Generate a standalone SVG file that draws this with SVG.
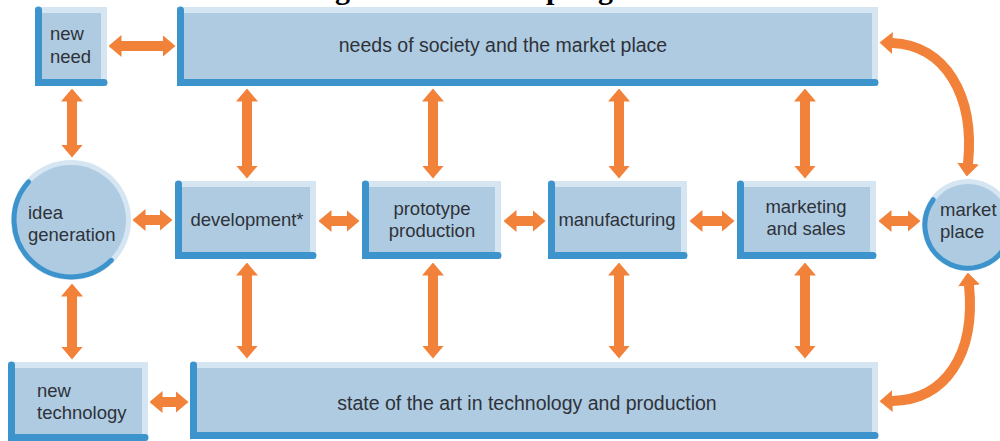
<svg xmlns="http://www.w3.org/2000/svg" width="1000" height="441" viewBox="0 0 1000 441">
  <defs>
    <style>
      .rim { fill: #d5e6f2; }
      .face { fill: #aecbe2; }
      .edge { fill: none; stroke: #3d93cb; stroke-width: 7; stroke-linecap: round; }
      .arc { fill: none; stroke: #3d93cb; stroke-width: 5; stroke-linecap: round; }
      .lbl { font-family: "Liberation Sans", Arial, sans-serif; font-size: 18.5px; fill: #2e3238; }
      .big { font-size: 19.5px; }
      .mid { text-anchor: middle; }
      .arr { fill: none; stroke: #f2813a; stroke-width: 10; marker-start: url(#ah); marker-end: url(#ah); }
      .title { font-family: "Liberation Serif", "Times New Roman", serif; font-weight: bold; font-size: 30px; fill: #000; }
    </style>
    <marker id="ah" viewBox="0 0 13 22" refX="0.5" refY="11" markerWidth="13" markerHeight="22" markerUnits="userSpaceOnUse" orient="auto-start-reverse">
      <path d="M0,0 L13,11 L0,22 Z" fill="#f2813a"/>
    </marker>
  </defs>

  <rect width="1000" height="441" fill="#ffffff"/>

  <!-- heading, cut off at the top edge -->
  <g id="heading">
    <text class="title" x="335" y="-1">g</text>
    <text class="title" x="546" y="-1">p</text>
    <text class="title" x="598" y="-1">g</text>
  </g>

  <!-- connectors -->
  <g id="connectors">
    <!-- horizontal -->
    <line class="arr" x1="121" y1="46" x2="163" y2="46"/>
    <line class="arr" x1="145" y1="220" x2="160" y2="220"/>
    <line class="arr" x1="331" y1="221" x2="347" y2="221"/>
    <line class="arr" x1="516" y1="221" x2="533" y2="221"/>
    <line class="arr" x1="702" y1="221" x2="722" y2="221"/>
    <line class="arr" x1="891" y1="221" x2="908" y2="221"/>
    <line class="arr" x1="162" y1="402" x2="176" y2="402"/>
    <!-- vertical, left column -->
    <line class="arr" x1="72" y1="101" x2="72" y2="145"/>
    <line class="arr" x1="72" y1="296" x2="72" y2="347"/>
    <!-- vertical, top row to middle row -->
    <line class="arr" x1="247" y1="101" x2="247" y2="166"/>
    <line class="arr" x1="433" y1="101" x2="433" y2="166"/>
    <line class="arr" x1="619" y1="101" x2="619" y2="166"/>
    <line class="arr" x1="805" y1="101" x2="805" y2="166"/>
    <!-- vertical, middle row to bottom row -->
    <line class="arr" x1="247" y1="275" x2="247" y2="346"/>
    <line class="arr" x1="433" y1="275" x2="433" y2="346"/>
    <line class="arr" x1="619" y1="275" x2="619" y2="346"/>
    <line class="arr" x1="805" y1="275" x2="805" y2="346"/>
    <!-- curved links to the market place -->
    <path class="arr" d="M 892 43 C 945 45, 975 95, 968 164"/>
    <path class="arr" d="M 969 285 C 976 355, 945 400, 892 401"/>
  </g>

  <!-- nodes -->
  <g id="new-need">
    <rect class="rim" x="35" y="7" width="72" height="79"/>
    <rect class="face" x="42" y="13" width="59" height="66"/>
    <path class="edge" d="M38.5 10 V82.5 H104"/>
    <text class="lbl" x="50" y="40">new</text>
    <text class="lbl" x="50" y="63">need</text>
  </g>

  <g id="needs-of-society">
    <rect class="rim" x="177" y="7" width="701" height="79"/>
    <rect class="face" x="184" y="13" width="688" height="66"/>
    <path class="edge" d="M180.5 10 V82.5 H875"/>
    <text class="lbl big mid" x="503" y="52">needs of society and the market place</text>
  </g>

  <g id="idea-generation">
    <circle class="rim" cx="71" cy="220" r="60"/>
    <circle class="face" cx="71" cy="220" r="55"/>
    <path class="arc" d="M 28.6 181.9 A 57 57 0 0 0 111.3 260.3"/>
    <text class="lbl" x="28" y="219">idea</text>
    <text class="lbl" x="28" y="241">generation</text>
  </g>

  <g id="development">
    <rect class="rim" x="175" y="181" width="141" height="78"/>
    <rect class="face" x="182" y="187" width="128" height="65"/>
    <path class="edge" d="M178.5 184 V255.5 H313"/>
    <text class="lbl mid" x="247" y="226">development*</text>
  </g>

  <g id="prototype-production">
    <rect class="rim" x="362" y="181" width="139" height="78"/>
    <rect class="face" x="369" y="187" width="126" height="65"/>
    <path class="edge" d="M365.5 184 V255.5 H498"/>
    <text class="lbl mid" x="432" y="215">prototype</text>
    <text class="lbl mid" x="432" y="237">production</text>
  </g>

  <g id="manufacturing">
    <rect class="rim" x="548" y="181" width="139" height="78"/>
    <rect class="face" x="555" y="187" width="126" height="65"/>
    <path class="edge" d="M551.5 184 V255.5 H684"/>
    <text class="lbl mid" x="617" y="226">manufacturing</text>
  </g>

  <g id="marketing-and-sales">
    <rect class="rim" x="737" y="181" width="139" height="78"/>
    <rect class="face" x="744" y="187" width="126" height="65"/>
    <path class="edge" d="M740.5 184 V255.5 H873"/>
    <text class="lbl mid" x="806" y="213">marketing</text>
    <text class="lbl mid" x="806" y="235">and sales</text>
  </g>

  <g id="market-place">
    <circle class="rim" cx="968" cy="225" r="46"/>
    <circle class="face" cx="968" cy="225" r="41"/>
    <path class="arc" d="M 933.2 199.7 A 43 43 0 1 0 1005.2 246.5"/>
    <text class="lbl" x="940" y="216">market</text>
    <text class="lbl" x="940" y="238">place</text>
  </g>

  <g id="new-technology">
    <rect class="rim" x="8" y="362" width="140" height="79"/>
    <rect class="face" x="15" y="368" width="127" height="66"/>
    <path class="edge" d="M11.5 365 V437.5 H145"/>
    <text class="lbl" x="37" y="397">new</text>
    <text class="lbl" x="37" y="419">technology</text>
  </g>

  <g id="state-of-the-art">
    <rect class="rim" x="190" y="362" width="688" height="77"/>
    <rect class="face" x="197" y="368" width="675" height="64"/>
    <path class="edge" d="M193.5 365 V435.5 H875"/>
    <text class="lbl big mid" x="527" y="410">state of the art in technology and production</text>
  </g>
</svg>
